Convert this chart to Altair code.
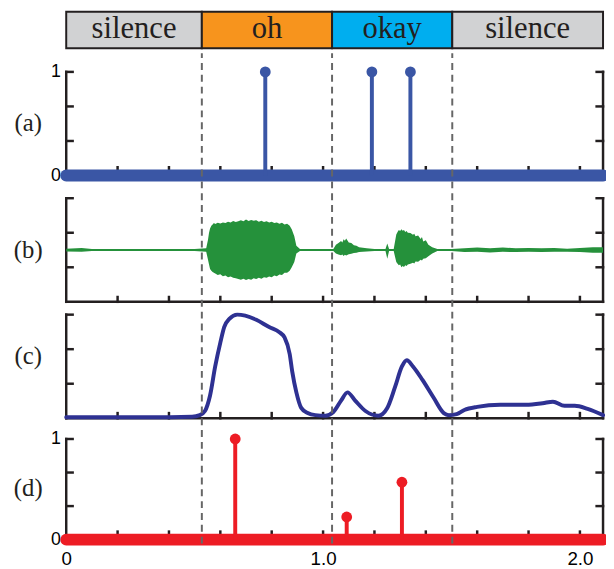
import altair as alt
import pandas as pd

# ---------------- data ----------------
X_MAX = 2.09
seg_labels = ["silence", "oh", "okay", "silence"]
seg_start = [0.0, 0.528, 1.035, 1.503]
seg_end = [0.528, 1.035, 1.503, 2.09]
seg_colors = ["#D1D2D3", "#F7941D", "#00AEEF", "#D1D2D3"]
boundaries = [0.528, 1.035, 1.503]

a_t = [0.775, 1.19, 1.34]
a_v = [1.0, 1.0, 1.0]

d_t = [0.658, 1.092, 1.307]
d_v = [1.0, 0.225, 0.57]

wave_t = [0.0, 0.06, 0.1, 0.2, 0.35, 0.5, 0.545, 0.552, 0.556, 0.56, 0.565, 0.57, 0.575,
          0.58, 0.59, 0.6, 0.61, 0.62, 0.63, 0.64, 0.65, 0.66, 0.67, 0.68, 0.69, 0.7,
          0.71, 0.72, 0.73, 0.74, 0.75, 0.76, 0.77, 0.78, 0.79, 0.8, 0.81, 0.82, 0.83,
          0.84, 0.85, 0.86, 0.87, 0.878, 0.888, 0.896, 0.91, 1.0, 1.04, 1.05, 1.06,
          1.07, 1.075, 1.08, 1.085, 1.09, 1.1, 1.11, 1.12, 1.13, 1.14, 1.17, 1.2, 1.243,
          1.25, 1.257, 1.275, 1.285, 1.29, 1.295, 1.3, 1.305, 1.31, 1.315, 1.32, 1.325,
          1.33, 1.34, 1.35, 1.355, 1.36, 1.37, 1.38, 1.385, 1.39, 1.4, 1.41, 1.425,
          1.445, 1.5, 1.55, 1.6, 1.65, 1.7, 1.75, 1.8, 1.85, 1.9, 1.95, 2.0, 2.05, 2.09]
wave_hi = [0.04, 0.06, 0.03, 0.03, 0.03, 0.03, 0.05, 0.3, 0.5, 0.62, 0.7, 0.74, 0.78,
           0.75, 0.79, 0.77, 0.8, 0.78, 0.82, 0.8, 0.84, 0.81, 0.83, 0.86, 0.83, 0.88,
           0.84, 0.87, 0.85, 0.86, 0.82, 0.85, 0.81, 0.83, 0.8, 0.82, 0.78, 0.8, 0.76,
           0.79, 0.74, 0.76, 0.7, 0.6, 0.4, 0.12, 0.03, 0.03, 0.03, 0.15, 0.2,
           0.26, 0.22, 0.31, 0.27, 0.33, 0.22, 0.2, 0.14, 0.12, 0.08, 0.05, 0.03, 0.03,
           0.19, 0.03, 0.03, 0.45, 0.52, 0.58, 0.55, 0.6, 0.56, 0.58, 0.52, 0.55,
           0.5, 0.49, 0.44, 0.47, 0.4, 0.42, 0.32, 0.38, 0.25, 0.28, 0.15, 0.08,
           0.03, 0.03, 0.05, 0.07, 0.05, 0.07, 0.05, 0.06, 0.05, 0.06, 0.04, 0.06, 0.08, 0.08]
wave_lo = [-0.04, -0.05, -0.03, -0.03, -0.03, -0.03, -0.05, -0.28, -0.42, -0.55, -0.6, -0.64, -0.66,
           -0.68, -0.72, -0.7, -0.76, -0.74, -0.79, -0.77, -0.8, -0.82, -0.84, -0.86, -0.83, -0.87,
           -0.84, -0.86, -0.82, -0.84, -0.8, -0.83, -0.79, -0.8, -0.77, -0.79, -0.74, -0.76, -0.71,
           -0.72, -0.66, -0.66, -0.6, -0.5, -0.35, -0.1, -0.03, -0.03, -0.03, -0.1, -0.13,
           -0.15, -0.13, -0.17, -0.14, -0.16, -0.12, -0.11, -0.09, -0.08, -0.06, -0.04, -0.03, -0.03,
           -0.25, -0.03, -0.03, -0.35, -0.4, -0.44, -0.42, -0.5, -0.46, -0.49, -0.44, -0.46,
           -0.42, -0.4, -0.37, -0.39, -0.33, -0.34, -0.28, -0.3, -0.25, -0.24, -0.18, -0.1,
           -0.03, -0.03, -0.06, -0.05, -0.07, -0.05, -0.06, -0.05, -0.06, -0.05, -0.05, -0.06, -0.08, -0.08]

c_t = [0.0, 0.32, 0.49, 0.52, 0.54, 0.56, 0.58, 0.60, 0.615, 0.635, 0.666, 0.697,
       0.74, 0.79, 0.83, 0.85, 0.87, 0.88, 0.896, 0.915, 0.94, 0.97, 1.01, 1.04,
       1.07, 1.095, 1.125, 1.165, 1.215, 1.25, 1.28, 1.307, 1.326, 1.35, 1.387,
       1.43, 1.47, 1.49, 1.52, 1.55, 1.6, 1.69, 1.79, 1.855, 1.895, 1.94, 1.98,
       2.03, 2.09]
c_v = [0.01, 0.01, 0.015, 0.03, 0.07, 0.22, 0.5, 0.73, 0.88, 0.96, 1.0, 0.99,
       0.95, 0.88, 0.83, 0.78, 0.62, 0.45, 0.25, 0.1, 0.05, 0.03, 0.025, 0.06,
       0.17, 0.25, 0.17, 0.07, 0.025, 0.1, 0.3, 0.5, 0.56, 0.5, 0.37,
       0.2, 0.05, 0.03, 0.04, 0.08, 0.11, 0.13, 0.13, 0.145, 0.16, 0.12, 0.12,
       0.09, 0.03]

tick_t = [0.2, 0.4, 0.6, 0.8, 1.0, 1.2, 1.4, 1.6, 1.8, 2.0]
y_ticks_unit = [1 / 3, 2 / 3, 1.0]
y_ticks_b = [-0.5, 0.5, 1.5]

# ---------------- layout / style ----------------
W, H = 544, 540
INK = "#231F20"
SERIF = "Liberation Serif, Times New Roman, Times, serif"
SANS = "Liberation Sans, Arial, Helvetica, sans-serif"
xscale = alt.Scale(domain=[0, X_MAX], nice=False, zero=False)
xaxis = alt.Axis(values=[0, 1, 2], labelExpr="datum.value == 0 ? '0' : format(datum.value, '.1f')",
                 domain=False, ticks=False, grid=False, labelFlush=False, labelFontSize=19,
                 labelFont=SANS, labelColor="#000", labelPadding=5, title=None)

bar_scale = alt.Scale(domain=[0, 1], range=[37, 0])
a_scale = alt.Scale(domain=[0, 1], range=[166, 61])
b_scale = alt.Scale(domain=[-1.5, 1.5], range=[294, 189])
c_scale = alt.Scale(domain=[0, 1], range=[412, 307])
d_scale = alt.Scale(domain=[0, 1], range=[535, 433])
dash_scale = alt.Scale(domain=[0, 1], range=[539, 42])


def X(f):
    return alt.X(f, type="quantitative", scale=xscale, axis=xaxis)


def panel_axis(title, ty, labels):
    kw = dict(orient="left", domain=False, ticks=False, grid=False, title=title, titleAngle=0,
              titleX=-39, titleY=ty, titleFont=SERIF, titleFontSize=25,
              titleFontWeight="normal", titleAlign="center", titleBaseline="middle", titleColor=INK)
    if labels:
        kw.update(values=[0, 1], format="d", labelFontSize=18, labelFont=SANS,
                  labelColor="#000", labelPadding=6)
    else:
        kw.update(labels=False)
    return alt.Axis(**kw)


def frame_df(lo, hi, yt, bt_len, bottom_line):
    rows = [(0, 0, lo, hi), (X_MAX, X_MAX, lo, hi)]
    for v in yt:
        rows.append((0, 0.025, v, v))
        rows.append((X_MAX - 0.025, X_MAX, v, v))
    for t in tick_t:
        rows.append((t, t, lo, lo + bt_len))
    if bottom_line:
        rows.append((0, X_MAX, lo, lo))
    return pd.DataFrame(rows, columns=["x", "x2", "y", "y2"])


def frame(df, scale, axis):
    return alt.Chart(df).mark_rule(color=INK, strokeWidth=2.5, strokeCap="square").encode(
        x=X("x"), x2="x2", y=alt.Y("y", type="quantitative", scale=scale, axis=axis), y2="y2")


layers = []

# top segment bar
seg_df = pd.DataFrame({"label": seg_labels, "start": seg_start, "end": seg_end, "col": seg_colors,
                       "y0": 0.0, "y1": 1.0})
seg_df["mid"] = (seg_df["start"] + seg_df["end"]) / 2
seg_df["ym"] = 0.5
layers.append(alt.Chart(seg_df).mark_rect(stroke=INK, strokeWidth=2).encode(
    x=X("start"), x2="end", y=alt.Y("y0", type="quantitative", scale=bar_scale, axis=None), y2="y1",
    fill=alt.Fill("col:N", scale=None)))
layers.append(alt.Chart(seg_df).mark_text(font=SERIF, fontSize=31, color=INK,
                                          baseline="middle", dy=-1).encode(
    x=X("mid"), y=alt.Y("ym", type="quantitative", scale=bar_scale, axis=None), text="label"))

# (a)
BLUE = "#3A56A5"
a_df = pd.DataFrame({"t": a_t, "v": a_v, "z": 0.0})
base_df = pd.DataFrame({"x": [0.0], "x2": [X_MAX], "y": [0.0]})
layers.append(frame(frame_df(0, 1, y_ticks_unit, 0.08, False), a_scale, panel_axis("(a)", 112, True)))
layers.append(alt.Chart(base_df).mark_rule(color=BLUE, strokeWidth=12, strokeCap="round").encode(
    x=X("x"), x2="x2", y=alt.Y("y", type="quantitative", scale=a_scale, axis=None)))
layers.append(alt.Chart(a_df).mark_rule(color=BLUE, strokeWidth=4).encode(
    x=X("t"), y=alt.Y("z", type="quantitative", scale=a_scale, axis=None), y2="v"))
layers.append(alt.Chart(a_df).mark_point(filled=True, color=BLUE, size=120, opacity=1).encode(
    x=X("t"), y=alt.Y("v", type="quantitative", scale=a_scale, axis=None)))

# (b)
GREEN = "#25913B"
w_df = pd.DataFrame({"t": wave_t, "hi": wave_hi, "lo": wave_lo})
layers.append(frame(frame_df(-1.5, 1.5, y_ticks_b, 0.14, True), b_scale, panel_axis("(b)", 241, False)))
layers.append(alt.Chart(w_df).mark_area(color=GREEN, opacity=1).encode(
    x=X("t"), y=alt.Y("hi", type="quantitative", scale=b_scale, axis=None), y2="lo"))

# (c)
NAVY = "#2E3192"
c_df = pd.DataFrame({"t": c_t, "v": c_v})
layers.append(frame(frame_df(0, 1, y_ticks_unit, 0.05, True), c_scale, panel_axis("(c)", 349, False)))
layers.append(alt.Chart(c_df).mark_line(color=NAVY, strokeWidth=4, interpolate="monotone",
                                        strokeCap="round").encode(
    x=X("t"), y=alt.Y("v", type="quantitative", scale=c_scale, axis=None)))

# (d)
RED = "#ED1C24"
d_df = pd.DataFrame({"t": d_t, "v": d_v, "z": 0.0})
layers.append(frame(frame_df(0, 1, y_ticks_unit, 0.08, False), d_scale, panel_axis("(d)", 482, True)))
layers.append(alt.Chart(base_df).mark_rule(color=RED, strokeWidth=12, strokeCap="round").encode(
    x=X("x"), x2="x2", y=alt.Y("y", type="quantitative", scale=d_scale, axis=None)))
layers.append(alt.Chart(d_df).mark_rule(color=RED, strokeWidth=4).encode(
    x=X("t"), y=alt.Y("z", type="quantitative", scale=d_scale, axis=None), y2="v"))
layers.append(alt.Chart(d_df).mark_point(filled=True, color=RED, size=120, opacity=1).encode(
    x=X("t"), y=alt.Y("v", type="quantitative", scale=d_scale, axis=None)))

# dashed boundaries
dash_df = pd.DataFrame({"t": boundaries, "y0": 0.0, "y1": 1.0})
layers.append(alt.Chart(dash_df).mark_rule(color="#666666", strokeWidth=2, strokeDash=[7, 5]).encode(
    x=X("t"), y=alt.Y("y0", type="quantitative", scale=dash_scale, axis=None), y2="y1"))

chart = alt.layer(*layers).resolve_scale(y="independent").resolve_axis(y="independent").properties(
    width=W, height=H, padding={"left": 59, "top": 0, "right": 3, "bottom": 21},
    autosize=alt.AutoSizeParams(type="none"), background="white"
).configure_view(stroke=None)

chart.save("out.html", embed_options={"renderer": "svg", "actions": False})
